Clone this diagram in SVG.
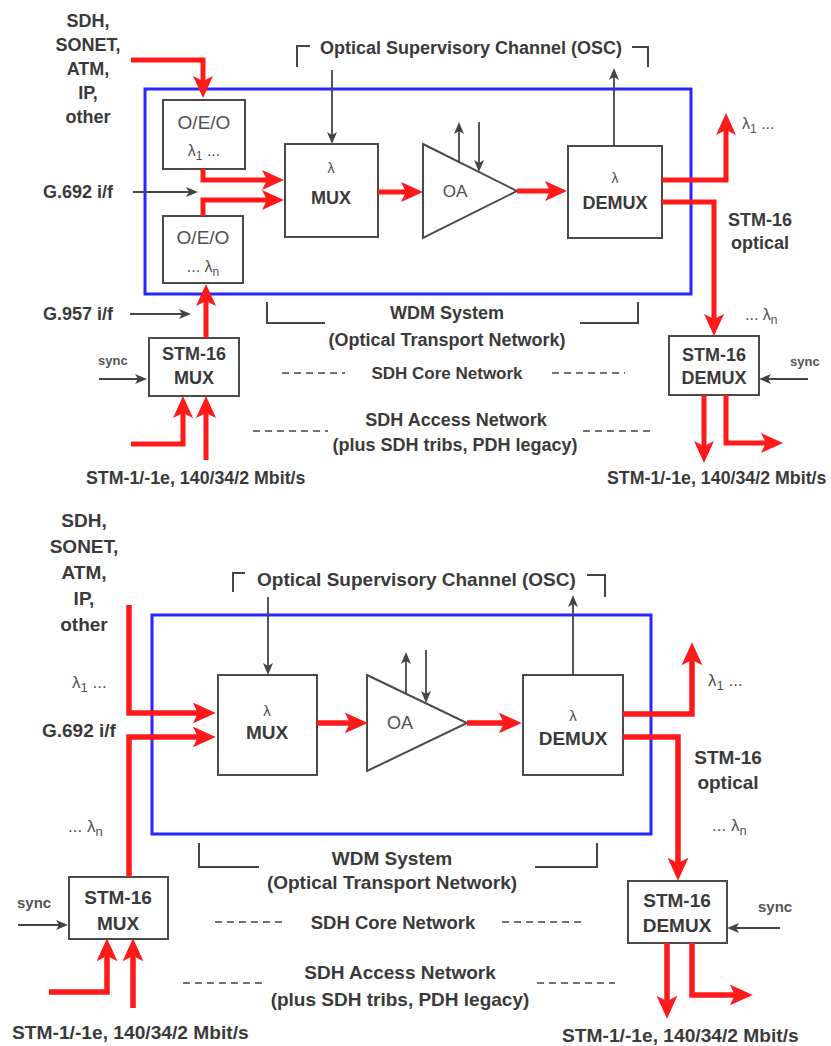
<svg xmlns="http://www.w3.org/2000/svg" width="831" height="1046" viewBox="0 0 831 1046">
<style>
text{font-family:"Liberation Sans",Arial,sans-serif;fill:#3a3a3a;font-weight:bold}
.r{font-weight:normal;fill:#505050}
.s{fill:#555}
.m{text-anchor:middle}
.a{font-size:18px}
.b{font-size:19px}
.box{fill:#fff;stroke:#4a4a4a;stroke-width:2}
.wdm{fill:none;stroke:#2626ff;stroke-width:3}
.red{fill:none;stroke:#ff1a1a;stroke-width:5;marker-end:url(#rh)}
.red2{fill:none;stroke:#ff1a1a;stroke-width:5.5;marker-end:url(#rh2)}
.g{fill:none;stroke:#444;stroke-width:1.8;marker-end:url(#gh)}
.br{fill:none;stroke:#444;stroke-width:2}
.d{fill:none;stroke:#444;stroke-width:1.6;stroke-dasharray:7 5}
</style>
<defs>
<marker id="rh" markerUnits="userSpaceOnUse" viewBox="0 0 22 20" markerWidth="22" markerHeight="20" refX="5" refY="10" orient="auto"><path d="M0,0 L22,10 L0,20 L5,10 z" fill="#ff1a1a"/></marker>
<marker id="rh2" markerUnits="userSpaceOnUse" viewBox="0 0 22 20" markerWidth="23" markerHeight="21" refX="5" refY="10" orient="auto"><path d="M0,0 L22,10 L0,20 L5,10 z" fill="#ff1a1a"/></marker>
<marker id="gh" markerUnits="userSpaceOnUse" viewBox="0 0 12 10" markerWidth="12" markerHeight="10" refX="3" refY="5" orient="auto"><path d="M0,0 L12,5 L0,10 L3,5 z" fill="#444"/></marker>
</defs>
<rect width="831" height="1046" fill="#fff"/>

<!-- ===== TOP DIAGRAM ===== -->
<g id="top-wdm"><rect class="wdm" x="145" y="89" width="546" height="205"/></g>
<g id="top-oeo1"><rect class="box" x="163" y="100" width="82" height="69"/>
<text class="r m" x="204" y="129" font-size="19">O/E/O</text>
<text class="r m" x="204" y="156" font-size="16">λ<tspan font-size="12" dy="4">1</tspan><tspan dy="-4"> ...</tspan></text></g>
<g id="top-oeo2"><rect class="box" x="163" y="216" width="80" height="67"/>
<text class="r m" x="203" y="244" font-size="19">O/E/O</text>
<text class="r m" x="203" y="272" font-size="16">... λ<tspan font-size="12" dy="4">n</tspan></text></g>
<g id="top-mux"><rect class="box" x="285" y="144" width="93" height="93"/>
<text class="r m" x="331" y="173" font-size="14">λ</text>
<text class="m a" x="331" y="204">MUX</text></g>
<g id="top-oa"><path class="box" d="M423,144 L517,191 L423,238 z"/>
<text class="r m" x="455" y="197" font-size="17">OA</text></g>
<g id="top-demux"><rect class="box" x="568" y="146" width="94" height="92"/>
<text class="r m" x="615" y="183" font-size="14">λ</text>
<text class="m a" x="615" y="209">DEMUX</text></g>
<g id="top-stmmux"><rect class="box" x="149" y="338" width="90" height="58"/>
<text class="m a" x="194" y="360">STM-16</text>
<text class="m a" x="194" y="384">MUX</text></g>
<g id="top-stmdemux"><rect class="box" x="669" y="336" width="90" height="59"/>
<text class="m a" x="714" y="361">STM-16</text>
<text class="m a" x="714" y="384">DEMUX</text></g>

<g id="top-labels">
<text class="m a" x="88" y="27">SDH,</text>
<text class="m a" x="88" y="51">SONET,</text>
<text class="m a" x="88" y="75">ATM,</text>
<text class="m a" x="88" y="99">IP,</text>
<text class="m a" x="88" y="123">other</text>
<text class="a" x="43" y="198">G.692 i/f</text>
<text class="a" x="43" y="320">G.957 i/f</text>
<text class="a" x="320" y="54">Optical Supervisory Channel (OSC)</text>
<text class="r" x="742" y="129" font-size="16">λ<tspan font-size="12" dy="4">1</tspan><tspan dy="-4"> ...</tspan></text>
<text class="m a" x="760" y="226">STM-16</text>
<text class="m a" x="760" y="249">optical</text>
<text class="r" x="745" y="320" font-size="16">... λ<tspan font-size="12" dy="4">n</tspan></text>
<text class="s" x="98" y="365" font-size="13">sync</text>
<text class="s" x="790" y="366" font-size="13">sync</text>
<text class="m a" x="447" y="319">WDM System</text>
<text class="m a" x="447" y="346">(Optical Transport Network)</text>
<text class="m" x="447" y="379" font-size="17">SDH Core Network</text>
<text class="m a" x="456" y="426">SDH Access Network</text>
<text class="m a" x="455" y="451">(plus SDH tribs, PDH legacy)</text>
<text x="86" y="484" font-size="17.8">STM-1/-1e, 140/34/2 Mbit/s</text>
<text x="607" y="484" font-size="17.8">STM-1/-1e, 140/34/2 Mbit/s</text>
</g>

<g id="top-connectors">
<path class="red" d="M131,60 H203 V81"/>
<path class="red" d="M203,169 V180 H267"/>
<path class="red" d="M203,216 V200 H267"/>
<path class="red" d="M206,338 V301"/>
<path class="red" d="M378,192 H406"/>
<path class="red" d="M517,191 H550"/>
<path class="red" d="M662,180 H726 V130"/>
<path class="red" d="M662,202 H714 V319"/>
<path class="red" d="M131,444 H183 V413"/>
<path class="red" d="M206,460 V413"/>
<path class="red" d="M704,395 V446"/>
<path class="red" d="M726,395 V443 H766"/>
<path class="g" d="M133,192 H189"/>
<path class="g" d="M130,314 H182"/>
<path class="g" d="M99,379 H138"/>
<path class="g" d="M808,379 H768"/>
<path class="g" d="M332,70 V135"/>
<path class="g" d="M614,146 V77"/>
<path class="g" d="M459,162 V131"/>
<path class="g" d="M479,122 V163"/>
<path class="br" d="M297,67 V46 H310"/>
<path class="br" d="M632,47 H648 V67"/>
<path class="br" d="M267,302 V323 H325"/>
<path class="br" d="M580,323 H638 V302"/>
<path class="d" d="M282,373 H345"/>
<path class="d" d="M552,373 H625"/>
<path class="d" d="M253,431 H328"/>
<path class="d" d="M583,431 H653"/>
</g>

<!-- ===== BOTTOM DIAGRAM ===== -->
<g id="bot-wdm"><rect class="wdm" x="152" y="615" width="499" height="219"/></g>
<g id="bot-mux"><rect class="box" x="218" y="675" width="99" height="100"/>
<text class="r m" x="267" y="716" font-size="15">λ</text>
<text class="m b" x="267" y="739">MUX</text></g>
<g id="bot-oa"><path class="box" d="M367,675 L467,723 L367,771 z"/>
<text class="r m" x="400" y="729" font-size="18">OA</text></g>
<g id="bot-demux"><rect class="box" x="523" y="675" width="100" height="100"/>
<text class="r m" x="573" y="721" font-size="15">λ</text>
<text class="m b" x="573" y="745">DEMUX</text></g>
<g id="bot-stmmux"><rect class="box" x="69" y="877" width="99" height="62"/>
<text class="m b" x="118" y="904">STM-16</text>
<text class="m b" x="118" y="930">MUX</text></g>
<g id="bot-stmdemux"><rect class="box" x="628" y="881" width="99" height="62"/>
<text class="m b" x="677" y="907">STM-16</text>
<text class="m b" x="677" y="932">DEMUX</text></g>

<g id="bot-labels">
<text class="m b" x="84" y="527">SDH,</text>
<text class="m b" x="84" y="553">SONET,</text>
<text class="m b" x="84" y="579">ATM,</text>
<text class="m b" x="84" y="605">IP,</text>
<text class="m b" x="84" y="631">other</text>
<text class="r" x="72" y="688" font-size="17">λ<tspan font-size="13" dy="4">1</tspan><tspan dy="-4"> ...</tspan></text>
<text class="b" x="42" y="737">G.692 i/f</text>
<text class="r" x="68" y="832" font-size="17">... λ<tspan font-size="13" dy="4">n</tspan></text>
<text class="b" x="257" y="586">Optical Supervisory Channel (OSC)</text>
<text class="r" x="708" y="686" font-size="17">λ<tspan font-size="13" dy="4">1</tspan><tspan dy="-4"> ...</tspan></text>
<text class="m b" x="728" y="764">STM-16</text>
<text class="m b" x="728" y="789">optical</text>
<text class="r" x="712" y="831" font-size="17">... λ<tspan font-size="13" dy="4">n</tspan></text>
<text class="s" x="17" y="908" font-size="15">sync</text>
<text class="s" x="758" y="912" font-size="15">sync</text>
<text class="m b" x="392" y="865">WDM System</text>
<text class="m b" x="392" y="889">(Optical Transport Network)</text>
<text class="m" x="393" y="929" font-size="18.5">SDH Core Network</text>
<text class="m b" x="400" y="979">SDH Access Network</text>
<text class="m b" x="400" y="1006">(plus SDH tribs, PDH legacy)</text>
<text x="12" y="1039" font-size="19.2">STM-1/-1e, 140/34/2 Mbit/s</text>
<text x="562" y="1042" font-size="19.2">STM-1/-1e, 140/34/2 Mbit/s</text>
</g>

<g id="bot-connectors">
<path class="red2" d="M129,605 V713 H198"/>
<path class="red2" d="M129,877 V737 H198"/>
<path class="red2" d="M317,723 H350"/>
<path class="red2" d="M467,723 H504"/>
<path class="red2" d="M623,714 H692 V660"/>
<path class="red2" d="M623,737 H678 V863"/>
<path class="red2" d="M49,992 H107 V956"/>
<path class="red2" d="M133,1008 V956"/>
<path class="red2" d="M667,943 V1001"/>
<path class="red2" d="M692,943 V995 H735"/>
<path class="g" d="M268,597 V666"/>
<path class="g" d="M573,675 V604"/>
<path class="g" d="M406,694 V661"/>
<path class="g" d="M426,650 V694"/>
<path class="g" d="M18,925 H59"/>
<path class="g" d="M780,928 H736"/>
<path class="br" d="M233,592 V573 H245"/>
<path class="br" d="M587,575 H605 V597"/>
<path class="br" d="M199,843 V867 H259"/>
<path class="br" d="M535,867 H597 V843"/>
<path class="d" d="M215,922 H282"/>
<path class="d" d="M502,922 H582"/>
<path class="d" d="M183,983 H263"/>
<path class="d" d="M537,983 H615"/>
</g>
</svg>
